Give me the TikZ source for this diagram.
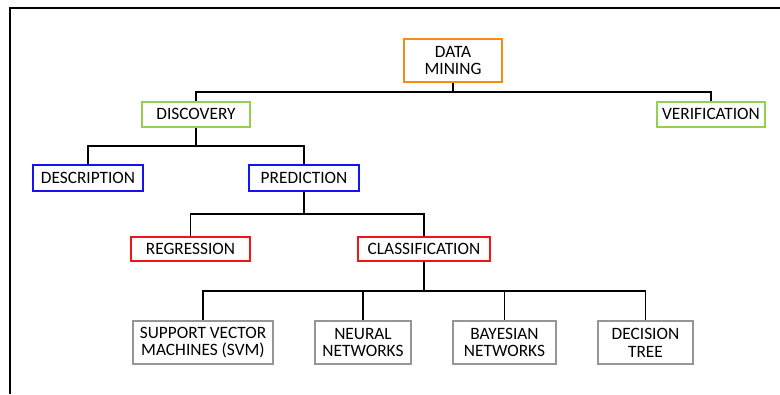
\documentclass[tikz,border=0pt]{standalone}
\usepackage{fontspec}
\setmainfont{Carlito}
\definecolor{dmorange}{RGB}{247,140,20}
\definecolor{lvgreen}{RGB}{146,208,80}
\definecolor{lvblue}{RGB}{20,20,240}
\definecolor{lvred}{RGB}{240,20,20}
\definecolor{lvgray}{RGB}{150,150,150}
\tikzset{
  box/.style={draw,line width=1.5pt,align=center,inner sep=1pt,
    font=\fontsize{13}{13.3}\selectfont},
  link/.style={line width=1.1pt}
}
\begin{document}
\begin{tikzpicture}[x=0.75pt,y=-0.75pt]
  \useasboundingbox (0,0) rectangle (780,394);
  \draw[line width=1.5pt] (780,8) -- (10,8) -- (10,394);
  % levels
  \node[box,dmorange,text=black,minimum width=73.5pt,minimum height=32.25pt] (dm) at (453,60.5) {DATA\\MINING};
  \node[box,lvgreen,text=black,minimum width=81pt,minimum height=18.75pt] (disc) at (196,114) {DISCOVERY};
  \node[box,lvgreen,text=black,minimum width=81pt,minimum height=18.75pt] (ver) at (711,114) {VERIFICATION};
  \node[box,lvblue,text=black,minimum width=82.5pt,minimum height=19.5pt] (desc) at (88,178) {DESCRIPTION};
  \node[box,lvblue,text=black,minimum width=82.5pt,minimum height=19.5pt] (pred) at (304,178) {PREDICTION};
  \node[box,lvred,text=black,minimum width=89.25pt,minimum height=18pt] (reg) at (190.5,249) {REGRESSION};
  \node[box,lvred,text=black,minimum width=99pt,minimum height=18pt] (cls) at (424,249) {CLASSIFICATION};
  \node[box,lvgray,text=black,minimum width=105pt,minimum height=32.25pt] (svm) at (203,342.5) {SUPPORT VECTOR\\MACHINES (SVM)};
  \node[box,lvgray,text=black,minimum width=72pt,minimum height=32.25pt] (nn) at (363,342.5) {NEURAL\\NETWORKS};
  \node[box,lvgray,text=black,minimum width=77.25pt,minimum height=32.25pt] (bn) at (504.5,342.5) {BAYESIAN\\NETWORKS};
  \node[box,lvgray,text=black,minimum width=71.25pt,minimum height=32.25pt] (dt) at (645.5,342.5) {DECISION\\TREE};
  % connectors
  \coordinate (b1) at (453,92);
  \coordinate (b2) at (196,146);
  \coordinate (b3) at (304,214);
  \coordinate (b4) at (424,291);
  \draw[link] (dm.south) -- (b1) -| (disc.north);
  \draw[link] (b1) -| (ver.north);
  \draw[link] (disc.south) -- (b2) -| (desc.north);
  \draw[link] (b2) -| (pred.north);
  \draw[link] (pred.south) -- (b3) -| (reg.north);
  \draw[link] (b3) -| (cls.north);
  \draw[link] (cls.south) -- (b4) -| (svm.north);
  \draw[link] (b4) -| (nn.north);
  \draw[link] (b4) -| (bn.north);
  \draw[link] (b4) -| (dt.north);
\end{tikzpicture}
\end{document}
